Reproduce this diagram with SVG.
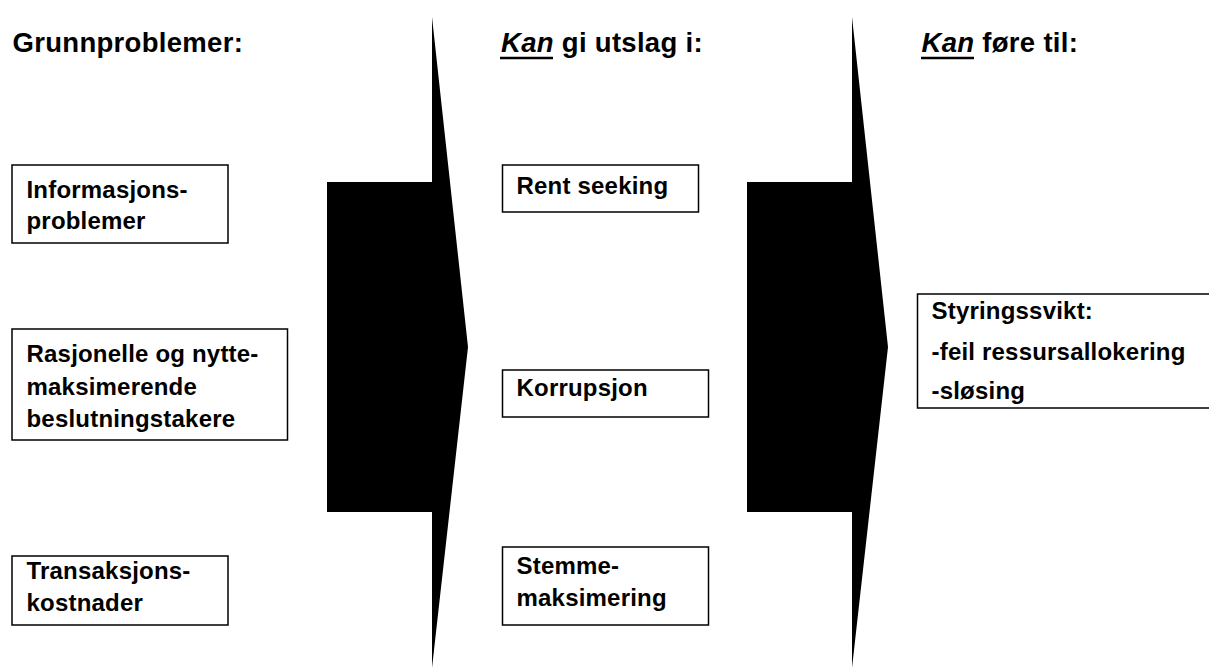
<svg xmlns="http://www.w3.org/2000/svg" width="1209" height="670" viewBox="0 0 1209 670">
  <style>
    text { font-family: "Liberation Sans", Arial, sans-serif; font-weight: bold; fill: #000; }
    .head { font-size: 27.5px; letter-spacing: 0.3px; }
    .lbl { font-size: 24px; letter-spacing: 0.2px; }
    .box { fill: #fff; stroke: #000; stroke-width: 1.5; }
    .arrow { fill: #000; stroke: none; }
    .ul { stroke: #000; stroke-width: 2.5; }
  </style>
  <rect width="1209" height="670" fill="#fff"/>

  <g id="headings">
    <text class="head" x="12.5" y="52">Grunnproblemer:</text>
    <text class="head" x="501" y="52"><tspan font-style="italic">Kan</tspan> gi utslag i:</text>
    <line class="ul" x1="500" y1="58" x2="553" y2="58"/>
    <text class="head" x="921.5" y="52"><tspan font-style="italic">Kan</tspan> føre til:</text>
    <line class="ul" x1="921" y1="58" x2="974" y2="58"/>
  </g>

  <g id="connectors">
    <polygon class="arrow" points="432,17 468,347 432,668 432,512 327,512 327,182 432,182"/>
    <polygon class="arrow" points="852,17 888,347 852,668 852,512 747,512 747,182 852,182"/>
  </g>

  <g id="informasjonsproblemer">
    <rect class="box" x="12" y="165" width="216" height="78"/>
    <text class="lbl" x="26.5" y="198">Informasjons-</text>
    <text class="lbl" x="26.5" y="229">problemer</text>
  </g>

  <g id="rasjonelle">
    <rect class="box" x="12" y="329" width="275.5" height="111"/>
    <text class="lbl" x="26.5" y="361.5">Rasjonelle og nytte-</text>
    <text class="lbl" x="26.5" y="394.5">maksimerende</text>
    <text class="lbl" x="26.5" y="427">beslutningstakere</text>
  </g>

  <g id="transaksjonskostnader">
    <rect class="box" x="12" y="556" width="216" height="69"/>
    <text class="lbl" x="26.5" y="579">Transaksjons-</text>
    <text class="lbl" x="26.5" y="611">kostnader</text>
  </g>

  <g id="rent-seeking">
    <rect class="box" x="502.5" y="165" width="196" height="47"/>
    <text class="lbl" x="516.5" y="193.5">Rent seeking</text>
  </g>

  <g id="korrupsjon">
    <rect class="box" x="502.5" y="370" width="206" height="47"/>
    <text class="lbl" x="516.5" y="396">Korrupsjon</text>
  </g>

  <g id="stemmemaksimering">
    <rect class="box" x="502.5" y="547" width="206" height="78"/>
    <text class="lbl" x="516.5" y="574">Stemme-</text>
    <text class="lbl" x="516.5" y="605.5">maksimering</text>
  </g>

  <g id="styringssvikt">
    <rect class="box" x="917.5" y="294" width="300" height="114"/>
    <text class="lbl" x="931.5" y="318.5">Styringssvikt:</text>
    <text class="lbl" x="931.5" y="360">-feil ressursallokering</text>
    <text class="lbl" x="931.5" y="399">-sløsing</text>
  </g>
</svg>
